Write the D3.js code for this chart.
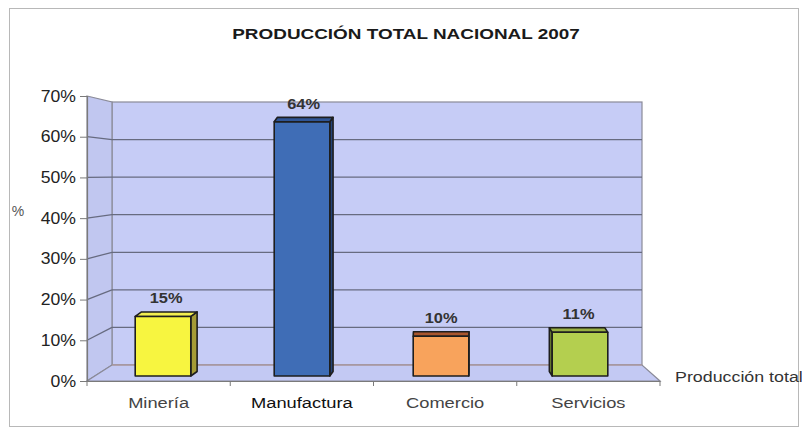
<!DOCTYPE html>
<html>
<head>
<meta charset="utf-8">
<script src="https://cdn.jsdelivr.net/npm/d3@7"></script>
<style>
  html, body { margin: 0; padding: 0; background: #fff; }
  svg { display: block; font-family: "Liberation Sans", Arial, sans-serif; }
</style>
</head>
<body>
<svg id="chart" width="802" height="429"></svg>
<script>
// Data
const categories = ["Minería", "Manufactura", "Comercio", "Servicios"];
const values = [15, 64, 10, 11];
const yTicks = [0, 10, 20, 30, 40, 50, 60, 70];
const barColors = ["#f7f540", "#3f6db6", "#f8a35c", "#b4cf4f"];
const sideColors = ["#a59b36", "#24447a", "#b8663a", "#6f8530"];
const topColors = ["#f2ee50", "#2f5596", "#a9552e", "#98b043"];

const svg = d3.select("#chart");

// Widen text glyphs horizontally (the chart uses a wide type setting)
function stretch(sel, k) {
  sel.each(function () {
    const w = this.getComputedTextLength();
    this.setAttribute("textLength", (w * k).toFixed(1));
    this.setAttribute("lengthAdjust", "spacingAndGlyphs");
  });
}

// Frame
svg.append("rect").attr("x", 9.5).attr("y", 8.5).attr("width", 789).attr("height", 418)
  .attr("fill", "none").attr("stroke", "#b8b8b8").attr("stroke-width", 1);

// Title
const title = svg.append("text").attr("x", 406).attr("y", 39).attr("text-anchor", "middle")
  .attr("font-size", 15.5).attr("font-weight", "bold").attr("fill", "#1a1a1a")
  .text("PRODUCCIÓN TOTAL NACIONAL 2007");
stretch(title, 1.22);

// 3D box geometry: back wall, left wall and floor
const back = { x0: 112, x1: 642 };
const front = { x0: 87, x1: 660 };
const yBack = d3.scaleLinear().domain([0, 70]).range([365, 102]);
const yFront = d3.scaleLinear().domain([0, 70]).range([381, 96]);
const yBar = d3.scaleLinear().domain([0, 70]).range([376, 98]);

const wallFill = "#c6ccf6";
const edge = "#8a8a98";
const gridColor = "#676b80";

// back wall
svg.append("rect").attr("x", back.x0).attr("y", yBack(70))
  .attr("width", back.x1 - back.x0).attr("height", yBack(0) - yBack(70))
  .attr("fill", wallFill).attr("stroke", edge).attr("stroke-width", 1.2);
// left wall
svg.append("polygon")
  .attr("points", [[front.x0, yFront(70)], [back.x0, yBack(70)], [back.x0, yBack(0)], [front.x0, yFront(0)]].join(" "))
  .attr("fill", "#c1c7f0").attr("stroke", edge).attr("stroke-width", 1.2);
// floor
svg.append("polygon")
  .attr("points", [[back.x0, yBack(0)], [back.x1, yBack(0)], [front.x1, yFront(0)], [front.x0, yFront(0)]].join(" "))
  .attr("fill", "#c3c9f3").attr("stroke", edge).attr("stroke-width", 1.2);

// gridlines on back and left walls
const grid = svg.append("g");
yTicks.filter(t => t > 0 && t < 70).forEach(t => {
  grid.append("line").attr("x1", back.x0).attr("x2", back.x1)
    .attr("y1", yBack(t)).attr("y2", yBack(t))
    .attr("stroke", gridColor).attr("stroke-width", 1.3);
  grid.append("line").attr("x1", front.x0).attr("x2", back.x0)
    .attr("y1", yFront(t)).attr("y2", yBack(t))
    .attr("stroke", gridColor).attr("stroke-width", 1.3);
});
// floor back edge in a warmer tone
grid.append("line").attr("x1", back.x0).attr("x2", back.x1)
  .attr("y1", yBack(0)).attr("y2", yBack(0))
  .attr("stroke", "#b59a9a").attr("stroke-width", 1.2);

// Y axis (front-left edge)
const yAxis = d3.axisLeft(yFront).tickValues(yTicks).tickSize(7).tickPadding(4)
  .tickFormat(d => d + "%");
const yg = svg.append("g").attr("transform", `translate(${front.x0},0)`).call(yAxis);
yg.select(".domain").attr("stroke", "#7a7a7a").attr("stroke-width", 1.2);
yg.selectAll(".tick line").attr("stroke", "#7a7a7a");
yg.selectAll(".tick text").attr("font-size", 16).attr("fill", "#222")
  .attr("font-family", "'Liberation Sans', Arial, sans-serif");
stretch(yg.selectAll(".tick text"), 1.1);

svg.append("text").attr("x", 18).attr("y", 216).attr("text-anchor", "middle")
  .attr("font-size", 14).attr("fill", "#555").text("%");

// X axis (front edge of floor)
const xFront = d3.scaleBand().domain(categories).range([front.x0, front.x1]);
const xAxis = d3.axisBottom(xFront).tickSize(0).tickPadding(16);
const xg = svg.append("g").attr("transform", `translate(0,${yFront(0)})`).call(xAxis);
xg.select(".domain").attr("stroke", "#7a7a7a").attr("stroke-width", 1.2);
xg.selectAll(".tick text").attr("font-size", 15.5)
  .attr("font-family", "'Liberation Sans', Arial, sans-serif")
  .attr("fill", (d, i) => i === 1 ? "#111" : "#444");
stretch(xg.selectAll(".tick text"), 1.18);
// category separator ticks
const seps = categories.map(c => xFront(c)).concat([front.x1]);
xg.selectAll(".sep").data(seps).join("line")
  .attr("x1", d => d).attr("x2", d => d).attr("y1", 0).attr("y2", 5)
  .attr("stroke", "#7a7a7a");

const seriesName = svg.append("text").attr("x", 675).attr("y", 382)
  .attr("font-size", 15.5).attr("fill", "#333").text("Producción total");
stretch(seriesName, 1.15);

// Bars, drawn on a plane between the back wall and the front edge
const xBar = d3.scaleBand().domain(categories).range([93.5, 649.5])
  .paddingInner(0.6).paddingOuter(0.3);
const vanishX = 450, depthK = 0.022, depthY = -4.5;

const bars = svg.append("g");
categories.forEach((c, i) => {
  const v = values[i];
  const x0 = xBar(c), x1 = x0 + xBar.bandwidth();
  const cx = (x0 + x1) / 2;
  const yt = yBar(v), yb = yBar(0);
  const dx = (vanishX - cx) * depthK, dy = depthY;
  const g = bars.append("g").attr("stroke", "#1e1e1e").attr("stroke-width", 1.6)
    .attr("stroke-linejoin", "round");
  // side face
  const sx = dx > 0 ? x1 : x0;
  g.append("polygon")
    .attr("points", [[sx, yt], [sx + dx, yt + dy], [sx + dx, yb + dy], [sx, yb]].join(" "))
    .attr("fill", sideColors[i]);
  // top face
  g.append("polygon")
    .attr("points", [[x0, yt], [x1, yt], [x1 + dx, yt + dy], [x0 + dx, yt + dy]].join(" "))
    .attr("fill", topColors[i]);
  // front face
  g.append("rect").attr("x", x0).attr("y", yt).attr("width", x1 - x0).attr("height", yb - yt)
    .attr("fill", barColors[i]);
  // value label
  const lbl = bars.append("text").attr("x", cx + dx / 2).attr("y", yt - 13)
    .attr("text-anchor", "middle").attr("font-size", 14.5).attr("font-weight", "bold")
    .attr("fill", "#333").text(v + "%");
  stretch(lbl, 1.13);
});
</script>
</body>
</html>
